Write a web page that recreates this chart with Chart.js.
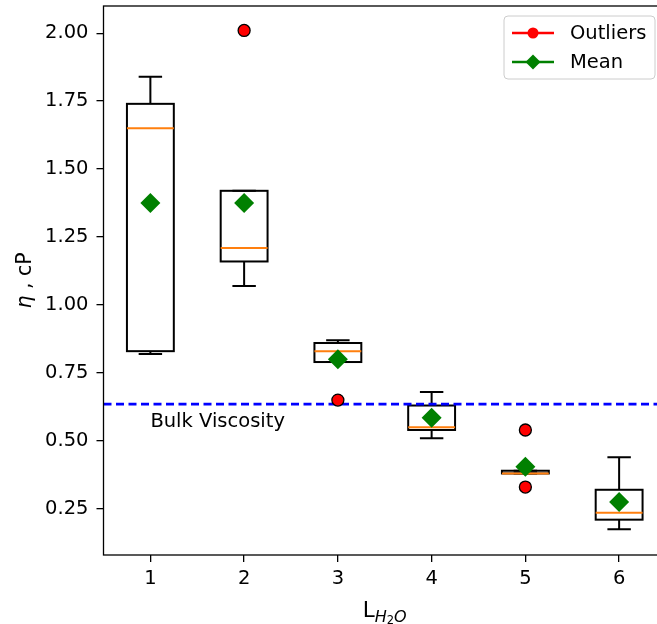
<!DOCTYPE html>
<html>
<head>
<meta charset="utf-8">
<script src="https://cdn.jsdelivr.net/npm/chart.js@4.4.0/dist/chart.umd.min.js"></script>
<style>
  html, body { margin: 0; padding: 0; background: #fff; overflow: hidden; }
  #wrap { width: 657px; height: 624px; overflow: hidden; }
</style>
</head>
<body>
<div id="wrap"><canvas id="c" width="700" height="624"></canvas></div>
<script>
// data
const categories = [1, 2, 3, 4, 5, 6];
const q1 = [0.83, 1.16, 0.79, 0.54, 0.38, 0.21];
const q3 = [1.74, 1.42, 0.86, 0.63, 0.39, 0.32];
const medians = [1.65, 1.21, 0.83, 0.55, 0.38, 0.235];
const whiskerLow = [0.82, 1.07, 0.79, 0.51, 0.38, 0.175];
const whiskerHigh = [1.84, 1.42, 0.87, 0.68, 0.39, 0.44];
const means = [1.375, 1.375, 0.80, 0.585, 0.405, 0.275];
const outlierX = [2, 3, 5, 5];
const outlierY = [2.01, 0.65, 0.54, 0.33];
const bulkViscosity = 0.635;
const yTicks = [0.25, 0.5, 0.75, 1.0, 1.25, 1.5, 1.75, 2.0];

const FONT = '"DejaVu Sans", sans-serif';
const FS = 19.5;

// boxes, whiskers and medians
const boxPlugin = {
  id: 'boxes',
  beforeDatasetsDraw(chart) {
    const { ctx, scales: { x, y } } = chart;
    ctx.save();
    categories.forEach((c, i) => {
      const cx = x.getPixelForValue(c);
      const hw = x.getPixelForValue(c + 0.25) - cx;
      const cw = x.getPixelForValue(c + 0.125) - cx;
      const yq1 = y.getPixelForValue(q1[i]);
      const yq3 = y.getPixelForValue(q3[i]);
      const ylo = y.getPixelForValue(whiskerLow[i]);
      const yhi = y.getPixelForValue(whiskerHigh[i]);
      const ym = y.getPixelForValue(medians[i]);
      ctx.strokeStyle = '#000';
      ctx.lineWidth = 2;
      ctx.beginPath();
      ctx.moveTo(cx, yq3); ctx.lineTo(cx, yhi);
      ctx.moveTo(cx, yq1); ctx.lineTo(cx, ylo);
      ctx.moveTo(cx - cw, yhi); ctx.lineTo(cx + cw, yhi);
      ctx.moveTo(cx - cw, ylo); ctx.lineTo(cx + cw, ylo);
      ctx.stroke();
      ctx.strokeRect(cx - hw, yq3, 2 * hw, yq1 - yq3);
      ctx.strokeStyle = '#ff7f0e';
      ctx.lineWidth = 2;
      ctx.beginPath();
      ctx.moveTo(cx - hw, ym); ctx.lineTo(cx + hw, ym);
      ctx.stroke();
    });
    ctx.restore();
  }
};

// frame, axis titles, annotation, legend
const decoPlugin = {
  id: 'deco',
  afterDraw(chart) {
    const { ctx, chartArea: a, scales: { x, y } } = chart;
    ctx.save();
    ctx.strokeStyle = '#000';
    ctx.lineWidth = 1.3;
    ctx.strokeRect(a.left, a.top, a.right - a.left, a.bottom - a.top);

    ctx.fillStyle = '#000';
    // annotation
    ctx.font = FS + 'px ' + FONT;
    ctx.textAlign = 'left';
    ctx.textBaseline = 'alphabetic';
    ctx.fillText('Bulk Viscosity', x.getPixelForValue(1.0), y.getPixelForValue(0.55));

    // x title: L_{H_2O}
    const parts = [
      { t: 'L', f: '21.5px ' + FONT, dy: 0 },
      { t: 'H', f: 'italic 16px ' + FONT, dy: 5 },
      { t: '2', f: '11.5px ' + FONT, dy: 7 },
      { t: 'O', f: 'italic 16px ' + FONT, dy: 5 }
    ];
    let tw = 0;
    parts.forEach(p => { ctx.font = p.f; p.w = ctx.measureText(p.t).width; tw += p.w; });
    let px = (a.left + a.right) / 2 - tw / 2;
    const base = 617;
    parts.forEach(p => { ctx.font = p.f; ctx.fillText(p.t, px, base + p.dy); px += p.w; });

    // y title: eta , cP
    ctx.save();
    ctx.translate(31, (a.top + a.bottom) / 2);
    ctx.rotate(-Math.PI / 2);
    ctx.font = 'italic 20.5px ' + FONT;
    const w1 = ctx.measureText('\u03b7').width;
    ctx.font = '20.5px ' + FONT;
    const w2 = ctx.measureText(' , cP').width;
    let sx = -(w1 + w2) / 2;
    ctx.font = 'italic 20.5px ' + FONT;
    ctx.fillText('\u03b7', sx, 0);
    ctx.font = '20.5px ' + FONT;
    ctx.fillText(' , cP', sx + w1, 0);
    ctx.restore();

    // legend
    const lw = 151, lh = 63;
    const lx = a.right - 11 - lw, ly = a.top + 10;
    ctx.beginPath();
    ctx.roundRect(lx, ly, lw, lh, 4);
    ctx.fillStyle = 'rgba(255,255,255,0.8)';
    ctx.fill();
    ctx.strokeStyle = '#cccccc';
    ctx.lineWidth = 1;
    ctx.stroke();
    const items = [
      { label: 'Outliers', color: '#ff0000', marker: 'circle' },
      { label: 'Mean', color: '#008000', marker: 'diamond' }
    ];
    items.forEach((it, k) => {
      const ry = ly + 17 + k * 29;
      ctx.strokeStyle = it.color;
      ctx.lineWidth = 2.5;
      ctx.beginPath();
      ctx.moveTo(lx + 8, ry); ctx.lineTo(lx + 50, ry);
      ctx.stroke();
      ctx.fillStyle = it.color;
      ctx.beginPath();
      const mx = lx + 29;
      if (it.marker === 'circle') {
        ctx.arc(mx, ry, 5.5, 0, Math.PI * 2);
      } else {
        ctx.moveTo(mx, ry - 7.5); ctx.lineTo(mx + 7.5, ry);
        ctx.lineTo(mx, ry + 7.5); ctx.lineTo(mx - 7.5, ry);
        ctx.closePath();
      }
      ctx.fill();
      ctx.fillStyle = '#000';
      ctx.font = FS + 'px ' + FONT;
      ctx.textBaseline = 'middle';
      ctx.fillText(it.label, lx + 66, ry + 1);
    });
    ctx.restore();
  }
};

new Chart(document.getElementById('c'), {
  type: 'scatter',
  data: {
    datasets: [
      {
        label: 'Mean',
        data: categories.map((c, i) => ({ x: c, y: means[i] })),
        pointStyle: 'rectRot',
        pointRadius: 10,
        backgroundColor: '#008000',
        borderColor: '#008000',
        borderWidth: 0
      },
      {
        label: 'Outliers',
        data: outlierX.map((c, i) => ({ x: c, y: outlierY[i] })),
        pointStyle: 'circle',
        pointRadius: 6,
        backgroundColor: '#ff0000',
        borderColor: '#000',
        borderWidth: 1.3
      },
      {
        type: 'line',
        label: 'Bulk',
        data: [{ x: 0.5, y: bulkViscosity }, { x: 6.5, y: bulkViscosity }],
        borderColor: '#0000ff',
        borderWidth: 2.8,
        borderDash: [8, 4.5],
        pointRadius: 0,
        fill: false
      }
    ]
  },
  options: {
    responsive: false,
    animation: false,
    devicePixelRatio: 1,
    layout: { autoPadding: false, padding: { top: 6, right: 34, left: 0, bottom: 0 } },
    plugins: { legend: { display: false }, tooltip: { enabled: false } },
    scales: {
      x: {
        type: 'linear',
        min: 0.5,
        max: 6.5,
        afterBuildTicks: s => { s.ticks = categories.map(v => ({ value: v })); },
        afterFit: s => { s.height = 69; s.paddingLeft = 0; s.paddingRight = 0; },
        border: { display: false },
        grid: { drawOnChartArea: false, drawTicks: true, tickLength: 7, color: '#000', lineWidth: 1.3 },
        ticks: { color: '#000', padding: 5, font: { family: FONT, size: FS }, callback: v => String(v) }
      },
      y: {
        min: 0.08,
        max: 2.1,
        afterBuildTicks: s => { s.ticks = yTicks.map(v => ({ value: v })); },
        afterFit: s => { s.width = 103.5; s.paddingTop = 0; s.paddingBottom = 0; },
        border: { display: false },
        grid: { drawOnChartArea: false, drawTicks: true, tickLength: 7, color: '#000', lineWidth: 1.3 },
        ticks: { color: '#000', padding: 8, font: { family: FONT, size: FS }, callback: v => v.toFixed(2) }
      }
    }
  },
  plugins: [boxPlugin, decoPlugin]
});
</script>
</body>
</html>
